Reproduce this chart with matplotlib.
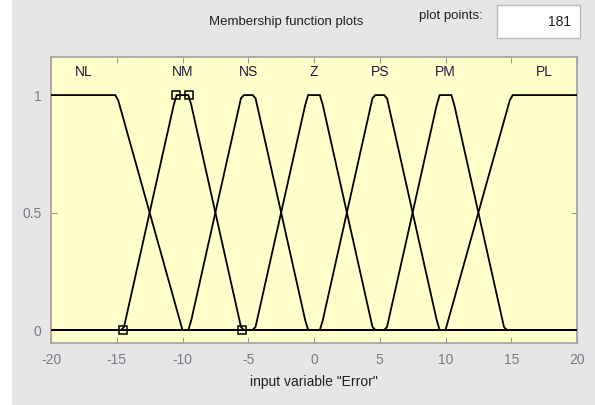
import numpy as np
import matplotlib.pyplot as plt
from matplotlib.patches import Rectangle

# membership functions of input "Error" (trapezoid params a, b, c, d)
mf_names = ['NL', 'NM', 'NS', 'Z', 'PS', 'PM', 'PL']
mf_params = [
    [-20, -20, -15, -10],
    [-14.5, -10.5, -9.5, -5.5],
    [-9.5, -5.5, -4.5, -0.5],
    [-4.5, -0.5, 0.5, 4.5],
    [0.5, 4.5, 5.5, 9.5],
    [5.5, 9.5, 10.5, 14.5],
    [10, 15, 20, 20],
]
selected = 'NM'
n_points = 181
x_range = [-20, 20]
xticks = [-20, -15, -10, -5, 0, 5, 10, 15, 20]
yticks = [0, 0.5, 1]


def trapmf(x, p):
    a, b, c, d = p
    y = np.ones_like(x)
    if b > a:
        y = np.minimum(y, (x - a) / (b - a))
    if d > c:
        y = np.minimum(y, (d - x) / (d - c))
    return np.clip(y, 0, 1)


plt.rcParams['font.family'] = ['Liberation Sans', 'DejaVu Sans']
plt.rcParams['axes.unicode_minus'] = False

fig = plt.figure(figsize=(5.95, 4.05), dpi=100, facecolor='white')
fig.patches.append(Rectangle((12 / 595, 0), 1, 1, transform=fig.transFigure,
                             facecolor='#e6e6e6', edgecolor='none', zorder=-10))

W, H = 595, 405
ax = fig.add_axes([51 / W, 1 - 343 / H, 526 / W, 286 / H])
ax.set_facecolor('#ffffcc')

x = np.linspace(x_range[0], x_range[1], n_points)
for name, p in zip(mf_names, mf_params):
    y = trapmf(x, p)
    ax.plot(x, y, color='black', lw=1.3, solid_joinstyle='miter', zorder=3)
    # label at centre of the plateau
    lo, hi = max(p[1], x_range[0]), min(p[2], x_range[1])
    ax.text((lo + hi) / 2, 1.1, name, ha='center', va='center',
            fontsize=10, color='#1c1c3c')
    if name == selected:
        ax.plot(p, [0, 1, 1, 0], ls='none', marker='s', ms=6,
                mfc='none', mec='black', mew=1.1, zorder=4)

ax.set_xlim(x_range)
ax.set_ylim(-0.055, 1.162)
ax.set_xticks(xticks)
ax.set_yticks(yticks)
ax.set_yticklabels(['0', '0.5', '1'])
ax.tick_params(direction='in', length=4, color='#999999', top=True, right=True,
               labelsize=10, labelcolor='#777788', pad=7)
for s in ax.spines.values():
    s.set_color('#a0a0a0')
    s.set_linewidth(1.2)

ax.set_xlabel('input variable "Error"', fontsize=10, color='#202020', labelpad=6)

# header
fig.text(286 / W, 1 - 22 / H, 'Membership function plots', ha='center', va='center',
         fontsize=9.5, color='#202020')
fig.text(451 / W, 1 - 16 / H, 'plot points:', ha='center', va='center',
         fontsize=9.5, color='#202020')
fig.patches.append(Rectangle((497 / W, 1 - 38 / H), 83 / W, 33 / H,
                             transform=fig.transFigure, facecolor='white',
                             edgecolor='#bbbbbb', lw=1))
fig.text(571 / W, 1 - 22 / H, str(n_points), ha='right', va='center',
         fontsize=10, color='#202020')

fig.savefig('out.png', dpi=100, facecolor=fig.get_facecolor())
